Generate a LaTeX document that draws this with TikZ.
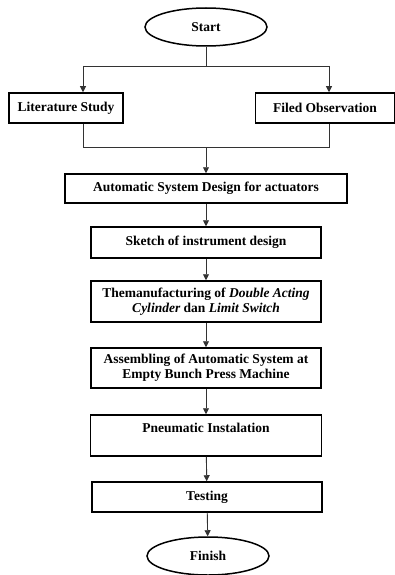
\documentclass[tikz,border=0pt]{standalone}
\usepackage{fontspec}
\setmainfont{Liberation Serif}
\usepackage{tikz}
\usetikzlibrary{shapes.geometric,arrows.meta}

\begin{document}
\begin{tikzpicture}[x=1pt,y=-1pt,
  every node/.style={font=\fontsize{13.5}{15}\selectfont\bfseries, inner sep=1pt},
  stepbox/.style={draw, line width=1.5pt, rectangle, align=center},
  term/.style={draw, line width=1.5pt, ellipse, minimum width=122pt, minimum height=38pt},
  flow/.style={line width=0.9pt, draw=black!80, -{Triangle[length=6pt,width=6pt]}},
  link/.style={line width=0.9pt, draw=black!80}]
\useasboundingbox (0,0) rectangle (395,575);
% terminals
\node[term] (start) at (206,27) {Start};
\node[term] (finish) at (208,556) {Finish};
% first row
\node[stepbox, minimum width=114pt, minimum height=30pt] (lit) at (66,108) {Literature Study};
\node[stepbox, minimum width=139pt, minimum height=30pt] (obs) at (325,108) {Filed Observation};
% main column
\node[stepbox, minimum width=282pt, minimum height=29pt] (design) at (206,188.5) {Automatic System Design for actuators};
\node[stepbox, minimum width=230pt, minimum height=31pt] (sketch) at (206,242.5) {Sketch of instrument design};
\node[stepbox, minimum width=230pt, minimum height=41pt] (manuf) at (206,301.5)
  {Themanufacturing of \textit{Double Acting}\\\textit{Cylinder} dan \textit{Limit Switch}};
\node[stepbox, minimum width=230pt, minimum height=40pt] (assem) at (206,368)
  {Assembling of Automatic System at\\Empty Bunch Press Machine};
\node[stepbox, minimum width=231pt, minimum height=41pt] (pneu) at (206,435.5) {Pneumatic Instalation\\\mbox{}};
\node[stepbox, minimum width=230pt, minimum height=30pt] (test) at (207,497) {Testing};
% split and join
\coordinate (split) at (206,66);
\coordinate (sl) at (83,66);
\coordinate (sr) at (329,66);
\coordinate (join) at (206,147);
\coordinate (jl) at (83,147);
\coordinate (jr) at (329,147);
\draw[link] (start) -- (split);
\draw[link] (sl) -- (sr);
\draw[flow] (sl) -- (sl |- lit.north);
\draw[flow] (sr) -- (sr |- obs.north);
\draw[link] (jl |- lit.south) -- (jl) -- (jr) -- (jr |- obs.south);
\draw[flow] (join) -- (design);
% chain
\draw[flow] (design) -- (sketch);
\draw[flow] (sketch) -- (manuf);
\draw[flow] (manuf) -- (assem);
\draw[flow] (assem) -- (pneu);
\draw[flow] (pneu) -- (test);
\draw[flow] (test) -- (finish);
\end{tikzpicture}
\end{document}
